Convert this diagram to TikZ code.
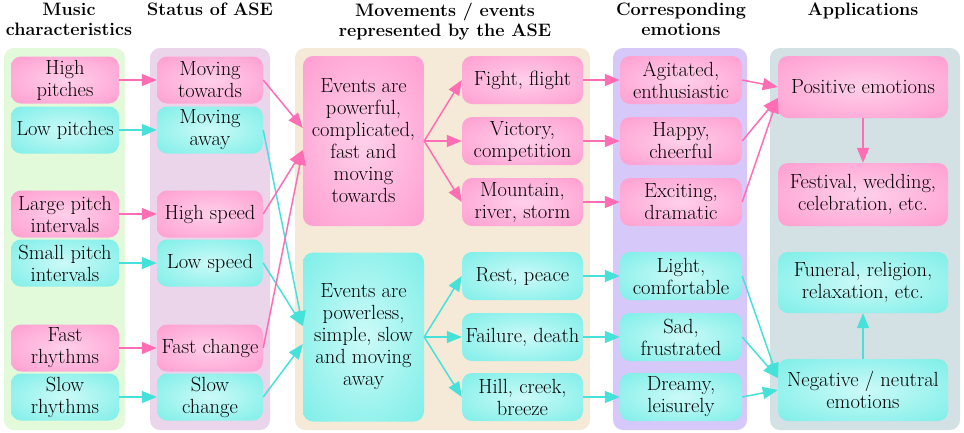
\documentclass[tikz,border=0pt]{standalone}
\usetikzlibrary{arrows.meta,calc}
\definecolor{pinkin}{HTML}{FFD0EA}
\definecolor{pinkout}{HTML}{FF8CC8}
\definecolor{cyanin}{HTML}{CCFAF8}
\definecolor{cyanout}{HTML}{62EAE2}
\definecolor{pinkline}{HTML}{FF6EB4}
\definecolor{cyanline}{HTML}{46E2DA}
\definecolor{panelA}{HTML}{E2F9DA}
\definecolor{panelB}{HTML}{EAD5EA}
\definecolor{panelC}{HTML}{F5EAD7}
\definecolor{panelD}{HTML}{D6C9F9}
\definecolor{panelE}{HTML}{D3E0E4}
\pgfdeclareradialshading{pinkshade}{\pgfpoint{0bp}{0bp}}{color(0bp)=(pinkin); color(48bp)=(pinkout); color(72bp)=(pinkout)}
\pgfdeclareradialshading{cyanshade}{\pgfpoint{0bp}{0bp}}{color(0bp)=(cyanin); color(48bp)=(cyanout); color(72bp)=(cyanout)}
\tikzset{
  panel/.style={rounded corners=10pt, draw=none},
  basebox/.style={rounded corners=10pt, inner sep=0pt, align=center, shade,
    font=\fontsize{20.5}{22}\selectfont},
  pbox/.style={basebox, shading=pinkshade},
  cbox/.style={basebox, shading=cyanshade},
  sz/.style 2 args={minimum width=#1pt, minimum height=#2pt},
  hdr/.style={anchor=north, align=center, inner sep=0pt,
    font=\bfseries\fontsize{18}{20}\selectfont},
  parr/.style={draw=pinkline, line width=1.5pt, -{Triangle[length=15pt,width=12pt]}},
  carr/.style={draw=cyanline, line width=1.5pt, -{Triangle[length=15pt,width=12pt]}},
}
\begin{document}
\begin{tikzpicture}[x=1pt, y=-1pt]
\useasboundingbox (0,0) rectangle (964,432);
% panels
\fill[panel, panelA] (4,48) rectangle (125,430);
\fill[panel, panelB] (150,48) rectangle (270,430);
\fill[panel, panelC] (295,48) rectangle (590,430);
\fill[panel, panelD] (613,48) rectangle (747,430);
\fill[panel, panelE] (770,48) rectangle (960,430);
% headers
\node[hdr] (h1) at (69,3) {Music\\characteristics};
\node[hdr] (h2) at (210,3) {Status of ASE};
\node[hdr] (h3) at (445,3) {Movements / events\\represented by the ASE};
\node[hdr] (h4) at (681,3) {Corresponding\\emotions};
\node[hdr] (h5) at (863,3) {Applications};
% column 1
\node[pbox, sz={108}{47}] (hp)  at (65,80)  {High\\pitches};
\node[cbox, sz={108}{47}] (lp)  at (65,130) {Low pitches};
\node[pbox, sz={108}{47}] (lpi) at (65,214) {Large pitch\\intervals};
\node[cbox, sz={108}{47}] (spi) at (65,263) {Small pitch\\intervals};
\node[pbox, sz={108}{47}] (fr)  at (65,348) {Fast\\rhythms};
\node[cbox, sz={108}{47}] (sr)  at (65,397) {Slow\\rhythms};
% column 2
\node[pbox, sz={106}{47}] (mt) at (210,80)  {Moving\\towards};
\node[cbox, sz={106}{47}] (ma) at (210,130) {Moving\\away};
\node[pbox, sz={106}{47}] (hs) at (210,214) {High speed};
\node[cbox, sz={106}{47}] (ls) at (210,263) {Low speed};
\node[pbox, sz={106}{47}] (fc) at (210,348) {Fast change};
\node[cbox, sz={106}{47}] (sc) at (210,397) {Slow\\change};
% column 3
\node[pbox, sz={121}{170}] (ep)  at (363.5,141) {Events are\\powerful,\\complicated,\\fast and\\moving\\towards};
\node[cbox, sz={121}{169}] (epl) at (363.5,337) {Events are\\powerless,\\simple, slow\\and moving\\away};
\node[pbox, sz={121}{48}] (ff) at (522.5,80)  {Fight, flight};
\node[pbox, sz={121}{48}] (vc) at (522.5,141) {Victory,\\competition};
\node[pbox, sz={121}{48}] (mr) at (522.5,202) {Mountain,\\river, storm};
\node[cbox, sz={121}{48}] (rp) at (522.5,276) {Rest, peace};
\node[cbox, sz={121}{48}] (fd) at (522.5,337) {Failure, death};
\node[cbox, sz={121}{48}] (hc) at (522.5,397) {Hill, creek,\\breeze};
% column 4
\node[pbox, sz={122}{48}] (ag)  at (681,80)  {Agitated,\\enthusiastic};
\node[pbox, sz={122}{48}] (hap) at (681,141) {Happy,\\cheerful};
\node[pbox, sz={122}{48}] (ex)  at (681,202) {Exciting,\\dramatic};
\node[cbox, sz={122}{48}] (lc)  at (681,276) {Light,\\comfortable};
\node[cbox, sz={122}{48}] (sf)  at (681,337) {Sad,\\frustrated};
\node[cbox, sz={122}{48}] (dl)  at (681,397) {Dreamy,\\leisurely};
% column 5
\node[pbox, sz={170}{62}] (pos)  at (863,87)    {Positive emotions};
\node[pbox, sz={170}{63}] (fest) at (863,194.5) {Festival, wedding,\\celebration, etc.};
\node[cbox, sz={170}{61}] (fun)  at (863,282.5) {Funeral, religion,\\relaxation, etc.};
\node[cbox, sz={170}{62}] (neg)  at (863,390)   {Negative / neutral\\emotions};
% arrows column 1 -> 2
\draw[parr] (hp.east) -- (mt.west);
\draw[carr] (lp.east) -- (ma.west);
\draw[parr] (lpi.east) -- (hs.west);
\draw[carr] (spi.east) -- (ls.west);
\draw[parr] (fr.east) -- (fc.west);
\draw[carr] (sr.east) -- (sc.west);
% column 2 -> 3
\coordinate (epA) at ($(ep.west)+(0,-13)$);
\coordinate (epB) at ($(ep.west)+(0,9)$);
\coordinate (eplA) at ($(epl.west)+(0,-11)$);
\coordinate (eplB) at ($(epl.west)+(0,7)$);
\draw[carr] (ma.east) -- (eplA);
\draw[carr] (ls.east) -- (eplA);
\draw[carr] (sc.east) -- (eplB);
\draw[parr] (mt.east) -- (epA);
\draw[parr] (hs.east) -- (epB);
\draw[parr] (fc.east) -- (epB);
% column 3 fan
\draw[parr] (ep.east) -- (ff.west);
\draw[parr] (ep.east) -- (vc.west);
\draw[parr] (ep.east) -- (mr.west);
\draw[carr] (epl.east) -- (rp.west);
\draw[carr] (epl.east) -- (fd.west);
\draw[carr] (epl.east) -- (hc.west);
% column 3 -> 4
\draw[parr] (ff.east) -- (ag.west);
\draw[parr] (vc.east) -- (hap.west);
\draw[parr] (mr.east) -- (ex.west);
\draw[carr] (rp.east) -- (lc.west);
\draw[carr] (fd.east) -- (sf.west);
\draw[carr] (hc.east) -- (dl.west);
% column 4 -> 5
\coordinate (posB) at ($(pos.west)+(0,11)$);
\coordinate (negA) at ($(neg.west)+(0,-12)$);
\draw[parr] (ag.east) -- (pos.west);
\draw[parr] (hap.east) -- (posB);
\draw[parr] (ex.east) -- (posB);
\draw[carr] (lc.east) -- (negA);
\draw[carr] (sf.east) -- (negA);
\draw[carr] (dl.east) -- (neg.west);
% column 5 vertical
\draw[parr] (pos.south) -- (fest.north);
\draw[carr] (neg.north) -- (fun.south);
\end{tikzpicture}
\end{document}
